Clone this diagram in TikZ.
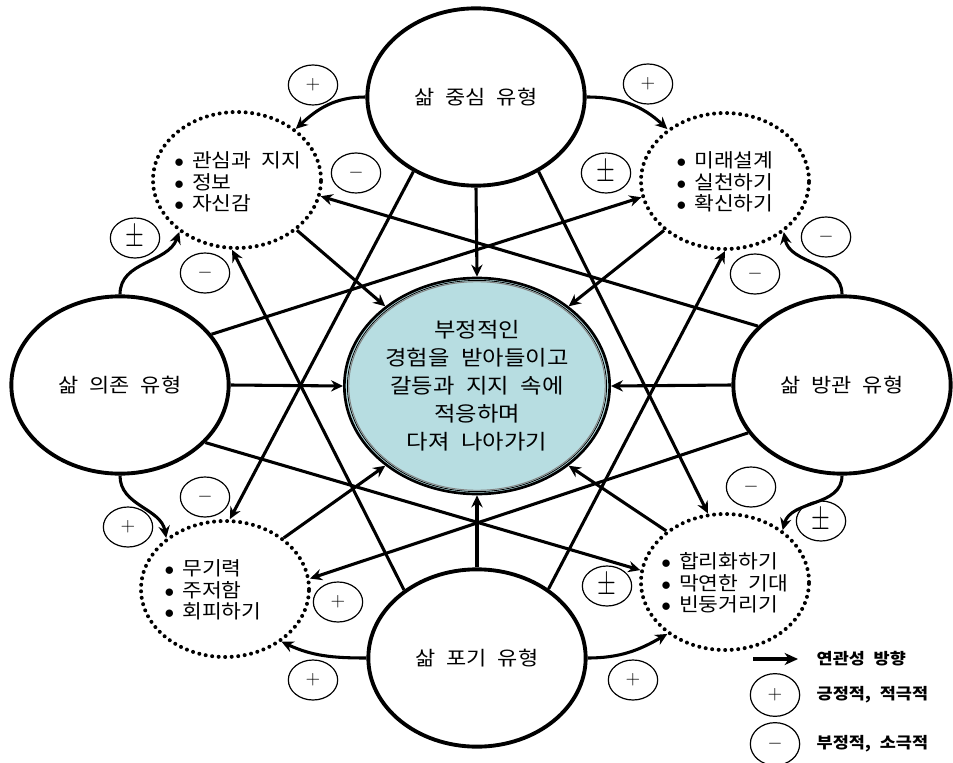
\documentclass[tikz,border=0pt]{standalone}
\usepackage{fontspec}
\usepackage{graphicx}
\setmainfont{Noto Sans CJK KR}[FakeStretch=1.12,WordSpace=2.2]
\usetikzlibrary{shapes.geometric,arrows.meta}
\definecolor{corefill}{RGB}{183,221,225}
\begin{document}
\begin{tikzpicture}[x=0.75pt,y=-0.75pt,
  typebox/.style={ellipse,draw,line width=2.9pt,minimum width=163pt,minimum height=133pt,inner sep=0pt,font=\fontsize{14.7pt}{17pt}\selectfont},
  dotbox/.style={ellipse,draw,line width=3pt,dash pattern=on 0pt off 4.9pt,line cap=round,minimum width=126pt,minimum height=102pt,inner sep=0pt},
  sgn/.style={ellipse,draw,line width=0.9pt,minimum width=37pt,minimum height=30pt,inner sep=0pt,font=\fontsize{14pt}{14pt}\selectfont},
  pmsgn/.style={sgn,font=\fontsize{16pt}{16pt}\selectfont},
  arr/.style={line width=2.3pt,-{Stealth[length=9pt,width=8.5pt,inset=3pt]}},
  itemtxt/.style={align=left,font=\fontsize{14.4pt}{16.2pt}\selectfont},
  legtxt/.style={anchor=west,font=\bfseries\fontsize{11.7pt}{14pt}\selectfont},
]
\useasboundingbox (0,0) rectangle (953,763);

% central node
\node[ellipse,fill=corefill,draw,line width=2pt,minimum width=199pt,minimum height=162pt,inner sep=0pt,align=center,font=\fontsize{15.6pt}{21pt}\selectfont] (core) at (477,386) {부정적인\\경험을 받아들이고\\갈등과 지지 속에\\적응하며\\다져 나아가기};
\draw[line width=0.6pt] (core.center) ellipse [x radius=97.2pt,y radius=79.2pt];
\draw[line width=0.7pt,gray] (core.center) ellipse [x radius=96.2pt,y radius=78.2pt];

% type ellipses
\node[typebox] (nT) at (476,97) {삶 중심 유형};
\node[typebox] (nL) at (120,385) {삶 의존 유형};
\node[typebox] (nR) at (842,385) {삶 방관 유형};
\node[typebox] (nB) at (477,658) {삶 포기 유형};

% dotted ellipses
\node[dotbox] (tl) at (237,180) {};
\node[dotbox] (tr) at (725,181) {};
\node[dotbox] (bl) at (225,589) {};
\node[dotbox] (br) at (725,582) {};
\node[itemtxt] (tlt) at (238,182) {$\bullet$\hspace{6pt}관심과 지지\\$\bullet$\hspace{6pt}정보\\$\bullet$\hspace{6pt}자신감};
\node[itemtxt] (trt) at (725,182) {$\bullet$\hspace{6pt}미래설계\\$\bullet$\hspace{6pt}실천하기\\$\bullet$\hspace{6pt}확신하기};
\node[itemtxt] (blt) at (213,590) {$\bullet$\hspace{6pt}무기력\\$\bullet$\hspace{6pt}주저함\\$\bullet$\hspace{6pt}회피하기};
\node[itemtxt] (brt) at (725,583) {$\bullet$\hspace{6pt}합리화하기\\$\bullet$\hspace{6pt}막연한 기대\\$\bullet$\hspace{6pt}빈둥거리기};

% arrows to the core
\draw[arr] (nT.270) -- (core.90);
\draw[arr] (nL.0) -- (core.180);
\draw[arr] (nR.180) -- (core.0);
\draw[arr] (nB.90) -- (core.270);
\draw[arr] (tl.320) -- (core.139);
\draw[arr] (tr.219) -- (core.41);
\draw[arr] (bl.41) -- (core.221);
\draw[arr] (br.139) -- (core.319);

% crossing arrows
\draw[arr] (nT.230) -- (bl.86);
\draw[arr] (nT.310) -- (br.104);
\draw[arr] (nL.29) -- (tr.191);
\draw[arr] (nL.326) -- (br.172);
\draw[arr] (nR.145) -- (tl.349);
\draw[arr] (nR.207) -- (bl.7.6);
\draw[arr] (nB.137) -- (tl.266);
\draw[arr] (nB.44) -- (tr.270);

% curved arrows
\draw[arr] (nT.180) to[out=180,in=43] (tl.41);
\draw[arr] (nT.0) to[out=0,in=137] (tr.138);
\draw[arr] (nL.90) to[out=90,in=-110] (tl.222);
\draw[arr] (nL.270) to[out=-90,in=100] (bl.139);
\draw[arr] (nR.90) to[out=90,in=-80] (tr.319);
\draw[arr] (nR.270) to[out=-90,in=75] (br.42);
\draw[arr] (nB.180) to[out=180,in=-25] (bl.317);
\draw[arr] (nB.0) to[out=0,in=-150] (br.222);

% sign circles
\node[sgn] (s1) at (313,85) {$+$};
\node[sgn] (s2) at (648,84) {$+$};
\node[sgn] (s3) at (128,527) {$+$};
\node[sgn] (s4) at (338,602) {$+$};
\node[sgn] (s5) at (313,680) {$+$};
\node[sgn] (s6) at (633,680) {$+$};
\node[sgn] (s7) at (356,173) {$-$};
\node[sgn] (s8) at (205,273) {$-$};
\node[sgn] (s9) at (826,237) {$-$};
\node[sgn] (s10) at (755,274) {$-$};
\node[sgn] (s11) at (205,497) {$-$};
\node[sgn] (s12) at (751,487) {$-$};
\node[pmsgn] (s13) at (606,173) {\scalebox{1.05}[1.5]{$\pm$}};
\node[pmsgn] (s14) at (135,238) {\scalebox{1.05}[1.5]{$\pm$}};
\node[pmsgn] (s15) at (821,521) {\scalebox{1.05}[1.5]{$\pm$}};
\node[pmsgn] (s16) at (607,586) {\scalebox{1.05}[1.5]{$\pm$}};

% legend
\coordinate (lgA) at (753,659);
\coordinate (lgB) at (798,659);
\draw[line width=2.6pt,-{Stealth[length=10pt,width=9pt,inset=3pt]}] (lgA) -- (lgB);
\node[legtxt] (lg1) at (812,659) {연관성 방향};
\node[sgn,minimum height=32pt] (lgp) at (775,695) {$+$};
\node[legtxt] (lg2) at (812,695) {긍정적, 적극적};
\node[sgn,minimum height=32pt] (lgm) at (775,744) {$-$};
\node[legtxt] (lg3) at (812,744) {부정적, 소극적};
\end{tikzpicture}
\end{document}
